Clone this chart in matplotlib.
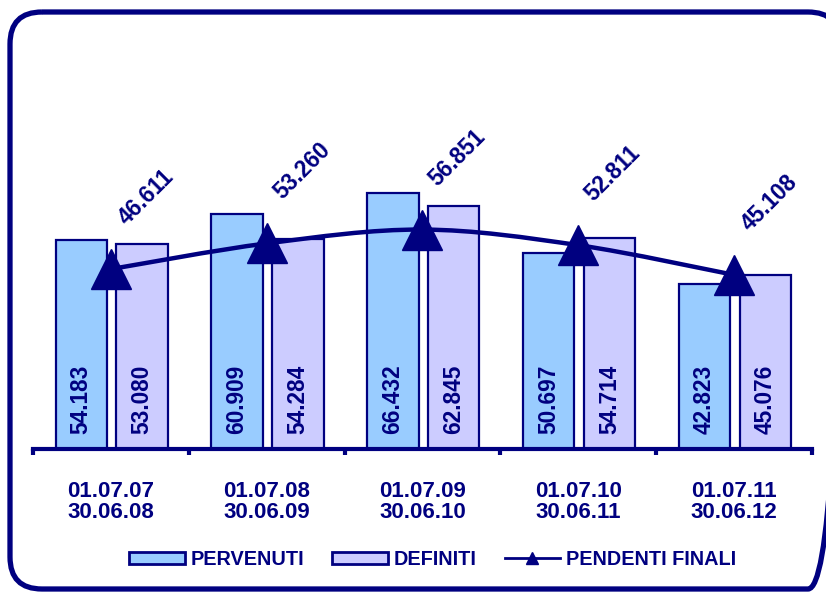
import numpy as np
import matplotlib.pyplot as plt
from matplotlib.path import Path
from matplotlib.patches import PathPatch, FancyBboxPatch, Patch
from matplotlib.lines import Line2D

plt.rcParams['font.family'] = 'Liberation Sans'
plt.rcParams['font.weight'] = 'bold'

# data
periods = ["01.07.07\n30.06.08", "01.07.08\n30.06.09", "01.07.09\n30.06.10",
           "01.07.10\n30.06.11", "01.07.11\n30.06.12"]
pervenuti = [54.183, 60.909, 66.432, 50.697, 42.823]
definiti = [53.080, 54.284, 62.845, 54.714, 45.076]
pendenti = [46.611, 53.260, 56.851, 52.811, 45.108]

navy = "#000080"
c_perv = "#99CCFF"
c_def = "#CCCCFF"

fig = plt.figure(figsize=(8.26, 5.92), dpi=100)

# rounded frame around the whole chart
bg = fig.add_axes([0, 0, 1, 1])
bg.set_xlim(0, 826)
bg.set_ylim(592, 0)
bg.axis("off")
frame = FancyBboxPatch((10, 12), 830, 577, boxstyle="round,pad=0,rounding_size=32",
                       fill=False, edgecolor=navy, linewidth=3.8)
bg.add_patch(frame)

ax = fig.add_axes([0.040, 0.2416, 0.943, 0.708])
ax.set_facecolor("none")

x = np.arange(len(periods))
w = 0.33
ax.bar(x - 0.19, pervenuti, w, color=c_perv, edgecolor=navy, linewidth=1.6, zorder=2)
ax.bar(x + 0.20, definiti, w, color=c_def, edgecolor=navy, linewidth=1.6, zorder=2)

# value labels inside bars
for xi, v in zip(x - 0.19, pervenuti):
    ax.annotate(f"{v:.3f}", (xi, 0), xytext=(0, 11), textcoords="offset points",
                rotation=90, ha="center", va="bottom", color=navy, fontsize=16.3,
                fontweight="bold", zorder=5)
for xi, v in zip(x + 0.20, definiti):
    ax.annotate(f"{v:.3f}", (xi, 0), xytext=(0, 11), textcoords="offset points",
                rotation=90, ha="center", va="bottom", color=navy, fontsize=16.3,
                fontweight="bold", zorder=5)

# smoothed line for pendenti (bezier through the points)
pts = np.column_stack([x, pendenti]).astype(float)
ext = np.vstack([pts[0], pts, pts[-1]])
verts = [pts[0]]
codes = [Path.MOVETO]
for i in range(1, len(ext) - 2):
    p0, p1, p2, p3 = ext[i - 1], ext[i], ext[i + 1], ext[i + 2]
    verts += [p1 + (p2 - p0) / 6, p2 - (p3 - p1) / 6, p2]
    codes += [Path.CURVE4] * 3
ax.add_patch(PathPatch(Path(verts, codes), fill=False, edgecolor=navy,
                       linewidth=3.2, zorder=3))
ax.plot(x, pendenti, linestyle="none", marker="^", markersize=29, color=navy, zorder=4)

for xi, v in zip(x, pendenti):
    ax.annotate(f"{v:.3f}", (xi, v), xytext=(11, 31), textcoords="offset points",
                rotation=45, rotation_mode="anchor", ha="left", va="baseline",
                color=navy, fontsize=16.3, fontweight="bold")

ax.set_xlim(-0.5, 4.5)
ax.set_ylim(0, 108.6)
ax.set_yticks([])
for s in ["top", "left", "right"]:
    ax.spines[s].set_visible(False)
ax.spines["bottom"].set_color(navy)
ax.spines["bottom"].set_linewidth(3)

ax.set_xticks(np.arange(-0.5, 5, 1.0))
ax.set_xticklabels([])
ax.tick_params(axis="x", which="major", length=4, width=3, color=navy, direction="out")
ax.set_xticks(x, minor=True)
ax.set_xticklabels(periods, minor=True, fontsize=16, fontweight="bold", color=navy,
                   linespacing=1.0)
ax.tick_params(axis="x", which="minor", length=0, pad=23)

handles = [
    Patch(facecolor=c_perv, edgecolor=navy, linewidth=2),
    Patch(facecolor=c_def, edgecolor=navy, linewidth=2),
    Line2D([], [], color=navy, linewidth=2, marker="^", markersize=8),
]
fig.legend(handles, ["PERVENUTI", "DEFINITI", "PENDENTI FINALI"], loc="center",
           bbox_to_anchor=(0.524, 0.055), ncol=3, frameon=False,
           prop={"size": 14.3, "weight": "bold"}, labelcolor=navy,
           handlelength=2.8, handleheight=0.6, handletextpad=0.3, columnspacing=1.4)

fig.savefig("out.png", dpi=100)
